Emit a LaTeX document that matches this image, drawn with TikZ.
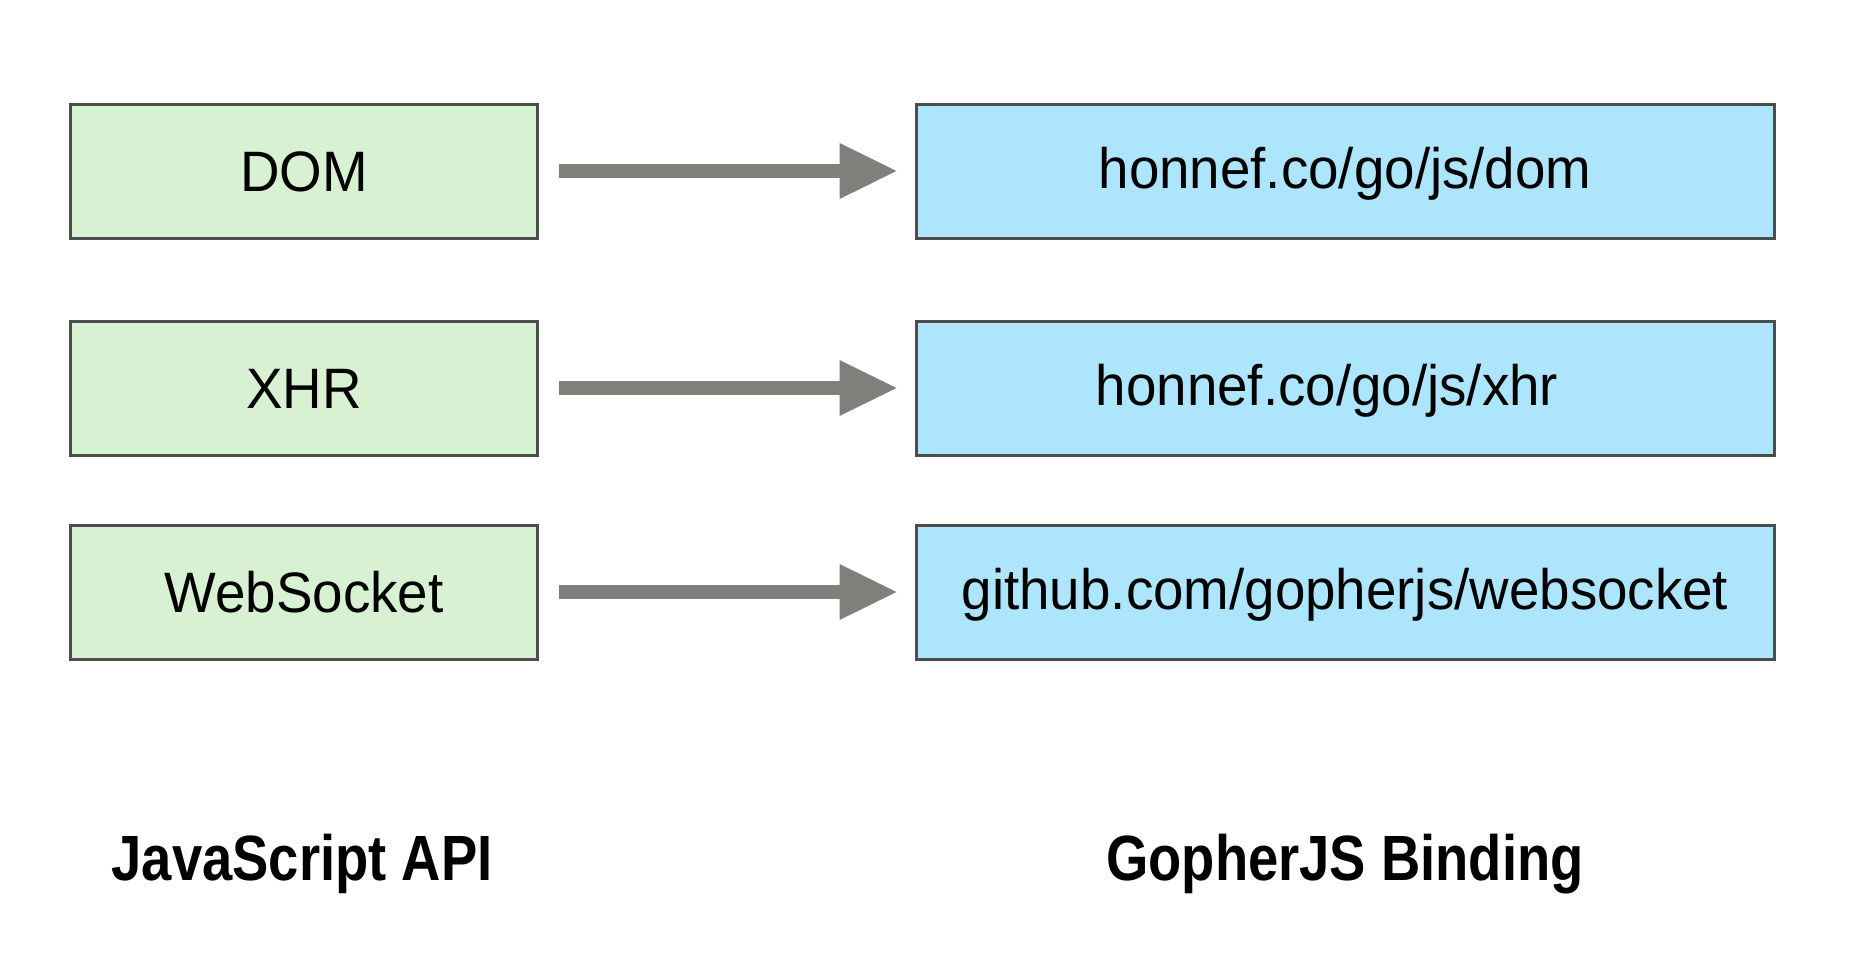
\documentclass[tikz,border=0pt]{standalone}
\usepackage{fontspec}
\setmainfont{Liberation Sans}[FakeStretch=0.96]
\newfontfamily\titlefont{Liberation Sans}[FakeStretch=0.85]
\usetikzlibrary{arrows.meta}
\definecolor{apigreen}{HTML}{D9F1D3}
\definecolor{bindblue}{HTML}{ADE6FC}
\definecolor{boxline}{HTML}{4D4D4D}
\definecolor{arrowgray}{HTML}{7F807B}
\tikzset{
  jsbox/.style={draw=boxline, line width=3pt, fill=apigreen, inner sep=0pt,
    minimum width=467pt, minimum height=134pt,
    font=\fontsize{57}{60}\selectfont, text height=41pt, text depth=0pt},
  gobox/.style={jsbox, fill=bindblue, minimum width=858pt, text depth=7pt},
  bigarrow/.style={draw=arrowgray, line width=14pt,
    -{Triangle[length=57pt, width=56pt, line width=0pt]},
    shorten <=20pt, shorten >=18pt},
  caption/.style={font=\titlefont\bfseries\fontsize{64}{68}\selectfont,
    text height=46pt, text depth=0pt, inner sep=0pt}
}
\begin{document}
\begin{tikzpicture}[x=1pt, y=-1pt]
\useasboundingbox (0,0) rectangle (1856,977); % page size
\node[jsbox] (dom) at (304,171) {DOM}; % javascript side
\node[jsbox] (xhr) at (304,388) {XHR};
\node[jsbox] (ws) at (304,592) {WebSocket};
\node[gobox] (godom) at (1345,171) {honnef.co/go/js/dom}; % gopherjs side
\node[gobox] (goxhr) at (1345,388) {honnef.co/go/js/xhr\hspace*{36pt}};
\node[gobox] (gows) at (1345,592) {github.com/gopherjs/websocket};
\foreach \n in {dom,xhr,ws}
\draw[bigarrow] (\n) -- (go\n);
\node[caption] (apilabel) at (302,857) {JavaScript API}; % column titles
\node[caption] (bindlabel) at (1345,857) {GopherJS Binding};
\end{tikzpicture}
\end{document}
